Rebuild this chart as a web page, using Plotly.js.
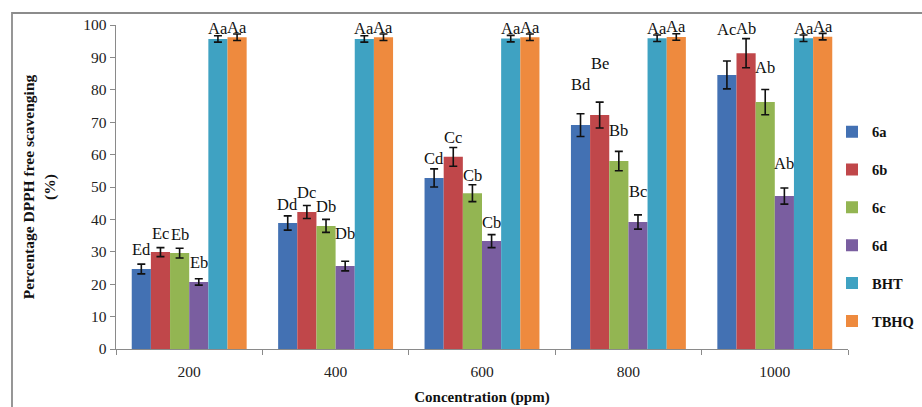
<!DOCTYPE html>
<html>
<head>
<meta charset="utf-8">
<script src="https://cdn.plot.ly/plotly-3.0.1.min.js"></script>
<style>
  html, body { margin: 0; padding: 0; background: #fff; }
  #chart { width: 922px; height: 407px; }
</style>
</head>
<body>
<div id="chart"></div>
<script>
// ---- data ----
const categories = ['200', '400', '600', '800', '1000'];
const seriesNames = ['6a', '6b', '6c', '6d', 'BHT', 'TBHQ'];

const val6a = [24.7, 38.9, 52.8, 69.1, 84.6];
const val6b = [29.9, 42.3, 59.3, 72.2, 91.3];
const val6c = [29.6, 38.0, 48.1, 58.0, 76.2];
const val6d = [20.7, 25.6, 33.3, 39.2, 47.2];
const valBHT = [95.7, 95.7, 95.8, 95.9, 95.9];
const valTBHQ = [96.2, 96.2, 96.2, 96.3, 96.4];

const err6a = [1.5, 2.2, 2.8, 3.5, 4.3];
const err6b = [1.4, 2.0, 2.9, 4.0, 4.5];
const err6c = [1.5, 2.0, 2.6, 3.0, 3.9];
const err6d = [1.0, 1.5, 2.0, 2.2, 2.5];
const errBHT = [1.0, 1.0, 1.0, 1.0, 1.0];
const errTBHQ = [1.0, 1.0, 1.0, 1.0, 1.0];

const lab6a = ['Ed', 'Dd', 'Cd', 'Bd', 'Ac'];
const lab6b = ['Ec', 'Dc', 'Cc', 'Be', 'Ab'];
const lab6c = ['Eb', 'Db', 'Cb', 'Bb', 'Ab'];
const lab6d = ['Eb', 'Db', 'Cb', 'Bc', 'Ab'];
const labBHT = ['Aa', 'Aa', 'Aa', 'Aa', 'Aa'];
const labTBHQ = ['Aa', 'Aa', 'Aa', 'Aa', 'Aa'];

// ---- styling / label placement (pixels above bar top) ----
const colors = ['#4371B3', '#C0474A', '#93B552', '#7A5EA0', '#3FA2C2', '#EE8A3E'];
const labelLift = [
  [19, 18, 19, 41, 45],
  [19, 19, 19, 52, 25],
  [19, 19, 18, 31, 35],
  [19, 33, 19, 30, 33],
  [10, 10, 10, 10, 10],
  [10, 10, 10, 10, 10]
];

const values = [val6a, val6b, val6c, val6d, valBHT, valTBHQ];
const errors = [err6a, err6b, err6c, err6d, errBHT, errTBHQ];
const labels = [lab6a, lab6b, lab6c, lab6d, labBHT, labTBHQ];

const serif = '"Liberation Serif", "Times New Roman", serif';

const traces = seriesNames.map((name, i) => ({
  type: 'bar',
  name: name,
  x: categories,
  y: values[i],
  legendgroup: name,
  marker: { color: colors[i], line: { width: 0 } },
  error_y: { type: 'data', array: errors[i], visible: true, color: '#111', thickness: 1.6, width: 4 },
  hoverinfo: 'x+y+name'
}));

const bargap = 0.215;
const plotW = 922 - 116 - 74;
const catW = plotW / categories.length;
const barW = catW * (1 - bargap) / seriesNames.length;

const annotations = [];
seriesNames.forEach((name, i) => {
  categories.forEach((c, j) => {
    annotations.push({
      x: j, y: values[i][j], xref: 'x', yref: 'y',
      text: labels[i][j], showarrow: false,
      xshift: (i - (seriesNames.length - 1) / 2) * barW,
      yshift: labelLift[i][j],
      yanchor: 'middle', xanchor: 'center',
      font: { family: serif, size: 16.5, color: '#111' }
    });
  });
});

const layout = {
  width: 922, height: 407,
  margin: { l: 116, r: 74, t: 25, b: 58, autoexpand: false },
  paper_bgcolor: '#ffffff',
  plot_bgcolor: '#ffffff',
  barmode: 'group',
  bargap: bargap,
  bargroupgap: 0,
  showlegend: true,
  legend: {
    xref: 'container', x: 832 / 922, xanchor: 'left', y: 0.72, yanchor: 'top',
    font: { family: serif, size: 14.5, color: '#111', weight: 'bold' },
    tracegroupgap: 16,
    bgcolor: 'rgba(0,0,0,0)',
    itemwidth: 30
  },
  xaxis: {
    type: 'category',
    range: [-0.5, categories.length - 0.5],
    showline: true, linecolor: '#8a8a8a', linewidth: 1.3,
    ticks: 'outside', tickson: 'boundaries', ticklen: 5, tickcolor: '#8a8a8a',
    ticklabelstandoff: 8,
    tickfont: { family: serif, size: 15.5, color: '#222' },
    showgrid: false, zeroline: false,
    title: { text: 'Concentration (ppm)', font: { family: serif, size: 15, color: '#111', weight: 'bold' }, standoff: 12 }
  },
  yaxis: {
    range: [0, 100], dtick: 10,
    showline: true, linecolor: '#8a8a8a', linewidth: 1.3,
    ticks: 'outside', ticklen: 5, tickcolor: '#8a8a8a',
    tickfont: { family: serif, size: 15.5, color: '#222' },
    showgrid: false, zeroline: false,
    title: { text: 'Percentage DPPH free scavenging<br>(%)', font: { family: serif, size: 15.5, color: '#111', weight: 'bold' }, standoff: 24 }
  },
  annotations: annotations,
  shapes: [{
    type: 'rect', xref: 'paper', yref: 'paper',
    x0: (12 - 116) / plotW, x1: 1.3,
    y0: -0.3, y1: (349 - 13) / 324,
    line: { color: '#8c8c8c', width: 1.8 }, fillcolor: 'rgba(0,0,0,0)', layer: 'below'
  }]
};

Plotly.newPlot('chart', traces, layout, { displayModeBar: false, staticPlot: true });
</script>
</body>
</html>
